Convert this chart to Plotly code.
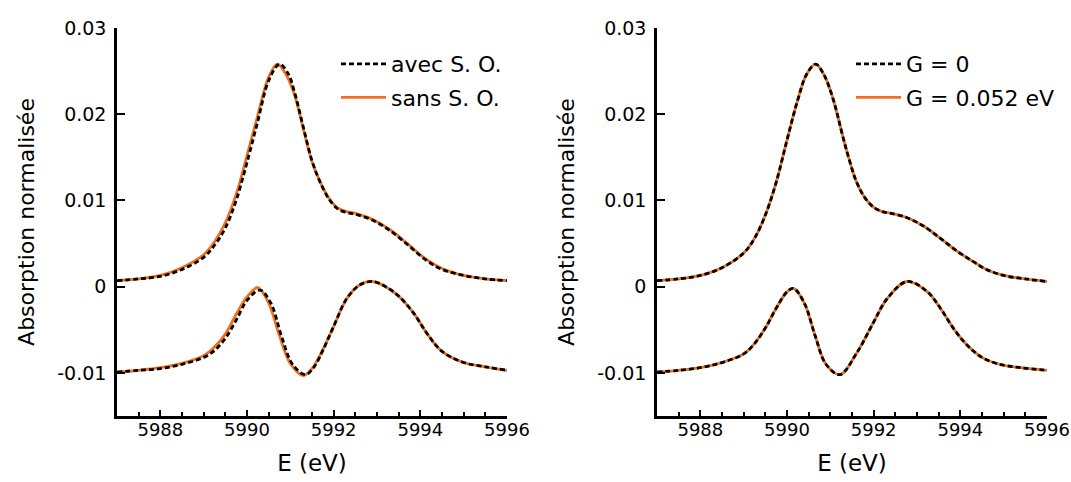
import plotly.graph_objects as go

# ---------------- data ----------------
# Left panel: "sans S. O." (orange, solid)
E_L_sans_up = [5987, 5987.5, 5988, 5988.5, 5989, 5989.25, 5989.5, 5989.75, 5990, 5990.25,
               5990.5, 5990.7, 5990.9, 5991.1, 5991.3, 5991.5, 5991.7, 5991.9, 5992.1, 5992.3,
               5992.5, 5992.9, 5993.3, 5993.7, 5994.1, 5994.5, 5995, 5995.5, 5996]
A_L_sans_up = [0.0007, 0.0009, 0.0013, 0.0022, 0.0037, 0.0052, 0.0074, 0.0107, 0.0152, 0.0199,
               0.0243, 0.0258, 0.0246, 0.0222, 0.0183, 0.0145, 0.0120, 0.0102, 0.0091, 0.0087,
               0.0085, 0.0078, 0.0066, 0.0050, 0.0033, 0.0021, 0.0013, 0.0009, 0.0007]
E_L_sans_lo = [5987, 5987.5, 5988, 5988.5, 5989, 5989.25, 5989.5, 5989.75, 5990, 5990.25,
               5990.5, 5990.75, 5991, 5991.3, 5991.5, 5991.75, 5992, 5992.3, 5992.6, 5992.9,
               5993.2, 5993.5, 5993.85, 5994.15, 5994.5, 5995, 5995.5, 5996]
A_L_sans_lo = [-0.0099, -0.0097, -0.0094, -0.0089, -0.0080, -0.0070, -0.0055, -0.0032, -0.0012, -0.0001,
               -0.0019, -0.0057, -0.0089, -0.0103, -0.0095, -0.0073, -0.0046, -0.0014, 0.0002, 0.0006,
               0.0000, -0.0011, -0.0031, -0.0054, -0.0075, -0.0088, -0.0093, -0.0097]

# Left panel: "avec S. O." (black, dashed)
E_L_avec_up = [5987, 5987.5, 5988, 5988.5, 5989, 5989.25, 5989.5, 5989.75, 5990, 5990.25,
               5990.5, 5990.75, 5990.95, 5991.1, 5991.3, 5991.5, 5991.7, 5991.9, 5992.1, 5992.3,
               5992.5, 5992.9, 5993.3, 5993.7, 5994.1, 5994.5, 5995, 5995.5, 5996]
A_L_avec_up = [0.0007, 0.0009, 0.0012, 0.0020, 0.0034, 0.0048, 0.0068, 0.0100, 0.0144, 0.0192,
               0.0239, 0.0258, 0.0247, 0.0225, 0.0185, 0.0146, 0.0120, 0.0101, 0.0090, 0.0086,
               0.0084, 0.0077, 0.0065, 0.0049, 0.0032, 0.0020, 0.0013, 0.0009, 0.0007]
E_L_avec_lo = [5987, 5987.5, 5988, 5988.5, 5989, 5989.25, 5989.5, 5989.75, 5990, 5990.3,
               5990.55, 5990.8, 5991.05, 5991.35, 5991.55, 5991.75, 5992, 5992.3, 5992.6, 5992.9,
               5993.2, 5993.5, 5993.85, 5994.15, 5994.5, 5995, 5995.5, 5996]
A_L_avec_lo = [-0.0099, -0.0097, -0.0095, -0.0090, -0.0082, -0.0074, -0.0060, -0.0039, -0.0016, -0.0004,
               -0.0019, -0.0058, -0.0090, -0.0102, -0.0093, -0.0074, -0.0046, -0.0014, 0.0002, 0.0006,
               0.0000, -0.0011, -0.0031, -0.0054, -0.0075, -0.0088, -0.0093, -0.0097]

# Right panel: "G = 0" and "G = 0.052 eV" (practically identical)
E_R_up = [5987, 5987.5, 5988, 5988.5, 5989, 5989.25, 5989.5, 5989.75, 5990, 5990.25,
          5990.45, 5990.66, 5990.85, 5991.05, 5991.3, 5991.45, 5991.6, 5991.8, 5992.0, 5992.2,
          5992.4, 5992.77, 5993.16, 5993.54, 5993.93, 5994.3, 5994.6, 5995.0, 5995.5, 5996]
A_R_G0_up = [0.0007, 0.0009, 0.0013, 0.0022, 0.0039, 0.0056, 0.0083, 0.0121, 0.0170, 0.0217,
             0.0246, 0.0258, 0.0246, 0.0220, 0.0172, 0.0145, 0.0122, 0.0103, 0.0092, 0.0087,
             0.0085, 0.0080, 0.0070, 0.0056, 0.0041, 0.0029, 0.0020, 0.0013, 0.0009, 0.0006]
A_R_G1_up = [0.0007, 0.0009, 0.0013, 0.0022, 0.0039, 0.0056, 0.0083, 0.0121, 0.0170, 0.0217,
             0.0246, 0.0258, 0.0246, 0.0220, 0.0172, 0.0145, 0.0122, 0.0103, 0.0092, 0.0087,
             0.0085, 0.0080, 0.0070, 0.0056, 0.0041, 0.0029, 0.0020, 0.0013, 0.0009, 0.0006]
E_R_lo = [5987, 5987.5, 5988, 5988.5, 5989, 5989.25, 5989.5, 5989.75, 5990, 5990.15,
          5990.4, 5990.65, 5990.9, 5991.22, 5991.62, 5992.0, 5992.31, 5992.77, 5993.24, 5993.54,
          5993.85, 5994.16, 5994.5, 5994.9, 5995.4, 5996]
A_R_G0_lo = [-0.0099, -0.0097, -0.0094, -0.0088, -0.0078, -0.0066, -0.0048, -0.0025, -0.0006, -0.0002,
             -0.0019, -0.0057, -0.0090, -0.0102, -0.0076, -0.0041, -0.0014, 0.0006, -0.0006, -0.0025,
             -0.0049, -0.0068, -0.0082, -0.0090, -0.0094, -0.0097]
A_R_G1_lo = [-0.0099, -0.0097, -0.0094, -0.0088, -0.0078, -0.0066, -0.0048, -0.0025, -0.0006, -0.0002,
             -0.0019, -0.0057, -0.0090, -0.0102, -0.0076, -0.0041, -0.0014, 0.0006, -0.0006, -0.0025,
             -0.0049, -0.0068, -0.0082, -0.0090, -0.0094, -0.0097]

X_RANGE = [5987, 5996]
Y_RANGE = [-0.015, 0.03]
X_TICKS = [5988, 5990, 5992, 5994, 5996]
Y_TICKS = [-0.01, 0, 0.01, 0.02, 0.03]
Y_TICK_TEXT = ["-0.01", "0", "0.01", "0.02", "0.03"]

ORANGE = "#F07020"
BLACK = "#000000"
FONT = "DejaVu Sans, Liberation Sans, Arial, sans-serif"

fig = go.Figure()


def add_pair(E_s, A_s, E_d, A_d, name_s, name_d, xa, ya, legend, show):
    fig.add_trace(go.Scatter(x=E_s, y=A_s, mode="lines", name=name_s,
                             line=dict(color=ORANGE, width=2.8, shape="spline", smoothing=1.0),
                             xaxis=xa, yaxis=ya, legend=legend, showlegend=show,
                             legendgroup=legend + "s", legendrank=2))
    fig.add_trace(go.Scatter(x=E_d, y=A_d, mode="lines", name=name_d,
                             line=dict(color=BLACK, width=2.8, dash="5px,3px", shape="spline", smoothing=1.0),
                             xaxis=xa, yaxis=ya, legend=legend, showlegend=show,
                             legendgroup=legend + "d", legendrank=1))


# left panel
add_pair(E_L_sans_up, A_L_sans_up, E_L_avec_up, A_L_avec_up, "sans S. O.", "avec S. O.", "x", "y", "legend", True)
add_pair(E_L_sans_lo, A_L_sans_lo, E_L_avec_lo, A_L_avec_lo, "sans S. O.", "avec S. O.", "x", "y", "legend", False)
# right panel
add_pair(E_R_up, A_R_G1_up, E_R_up, A_R_G0_up, "G = 0.052 eV", "G = 0", "x2", "y2", "legend2", True)
add_pair(E_R_lo, A_R_G1_lo, E_R_lo, A_R_G0_lo, "G = 0.052 eV", "G = 0", "x2", "y2", "legend2", False)

W, H = 1071, 482
xdom1 = [117 / W, 507 / W]
xdom2 = [657 / W, 1047 / W]
ydom = [1 - 416 / H, 1 - 28 / H]

common_x = dict(range=X_RANGE, tickvals=X_TICKS, ticks="inside", ticklen=6, tickwidth=2,
                tickcolor="black", showline=True, linecolor="black", linewidth=2.5,
                showgrid=False, zeroline=False, tickfont=dict(size=18, color="black"),
                ticklabelstandoff=-4,
                minor=dict(dtick=0.5, tick0=5987, ticks="inside", ticklen=4, tickwidth=2, tickcolor="black"),
                title=dict(text="E (eV)", font=dict(size=23, color="black"), standoff=16),
                automargin=False, fixedrange=True)
common_y = dict(range=Y_RANGE, tickvals=Y_TICKS, ticktext=Y_TICK_TEXT, ticks="inside", ticklen=8,
                tickwidth=2, tickcolor="black", showline=True, linecolor="black", linewidth=2.5,
                showgrid=False, zeroline=False, tickfont=dict(size=19, color="black"),
                ticklabelstandoff=4,
                title=dict(text="Absorption normalisée", font=dict(size=22, color="black"), standoff=17),
                automargin=False, fixedrange=True)

fig.update_layout(
    width=W, height=H,
    margin=dict(l=0, r=0, t=0, b=0),
    paper_bgcolor="white", plot_bgcolor="white",
    font=dict(family=FONT, color="black"),
    xaxis=dict(domain=xdom1, anchor="y", **common_x),
    yaxis=dict(domain=ydom, anchor="x", **common_y),
    xaxis2=dict(domain=xdom2, anchor="y2", **common_x),
    yaxis2=dict(domain=ydom, anchor="x2", **common_y),
    legend=dict(x=336 / W, y=1 - 43 / H, xanchor="left", yanchor="top",
                font=dict(size=22, color="black"), bgcolor="rgba(0,0,0,0)",
                tracegroupgap=2, itemwidth=45),
    legend2=dict(x=851 / W, y=1 - 43 / H, xanchor="left", yanchor="top",
                 font=dict(size=22, color="black"), bgcolor="rgba(0,0,0,0)",
                 tracegroupgap=2, itemwidth=45),
)

fig.write_html("out.html", config={"displayModeBar": False},
               post_script="document.body.style.margin='0px';document.body.style.overflow='hidden';")
